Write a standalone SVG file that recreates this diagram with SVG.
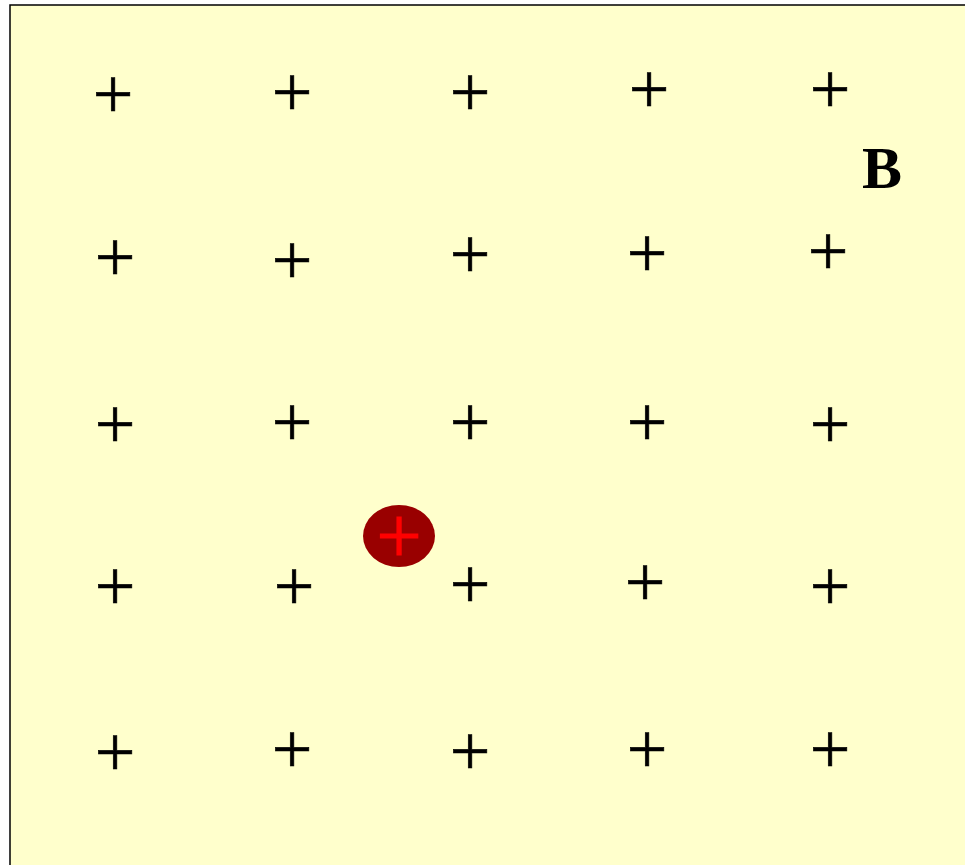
<svg xmlns="http://www.w3.org/2000/svg" width="965" height="865" viewBox="0 0 965 865">
<style>
.p{font-family:"Liberation Serif","Times New Roman",serif;font-size:72px;fill:#000;stroke:#000;stroke-width:0.6;text-anchor:middle}
.b{font-family:"Liberation Serif","Times New Roman",serif;font-size:60px;font-weight:bold;fill:#000}
</style>
<rect x="0" y="0" width="965" height="865" fill="#ffffff"/>
<rect id="field" x="10" y="5" width="1000" height="1000" fill="#ffffcc" stroke="#000" stroke-width="1.5"/>
<g id="charges">
<text class="p" x="113" y="118">+</text>
<text class="p" x="292" y="116">+</text>
<text class="p" x="470" y="116">+</text>
<text class="p" x="649" y="113">+</text>
<text class="p" x="830" y="113">+</text>
<text class="p" x="115" y="281">+</text>
<text class="p" x="292" y="284">+</text>
<text class="p" x="470" y="278">+</text>
<text class="p" x="647" y="277">+</text>
<text class="p" x="828" y="275">+</text>
<text class="p" x="115" y="448">+</text>
<text class="p" x="292" y="446">+</text>
<text class="p" x="470" y="446">+</text>
<text class="p" x="647" y="446">+</text>
<text class="p" x="830" y="448">+</text>
<text class="p" x="115" y="610">+</text>
<text class="p" x="294" y="610">+</text>
<text class="p" x="470" y="608">+</text>
<text class="p" x="645" y="606">+</text>
<text class="p" x="830" y="610">+</text>
<text class="p" x="115" y="776">+</text>
<text class="p" x="292" y="773">+</text>
<text class="p" x="470" y="775">+</text>
<text class="p" x="647" y="773">+</text>
<text class="p" x="830" y="773">+</text>
</g>
<text id="label-B" class="b" x="862" y="188">B</text>
<g id="particle">
<ellipse cx="399" cy="536" rx="36" ry="31" fill="#990000"/>
<text x="399" y="563" font-family="Liberation Serif, Times New Roman, serif" font-size="80" fill="#ff0000" stroke="#ff0000" stroke-width="1.2" text-anchor="middle">+</text>
</g>
</svg>
